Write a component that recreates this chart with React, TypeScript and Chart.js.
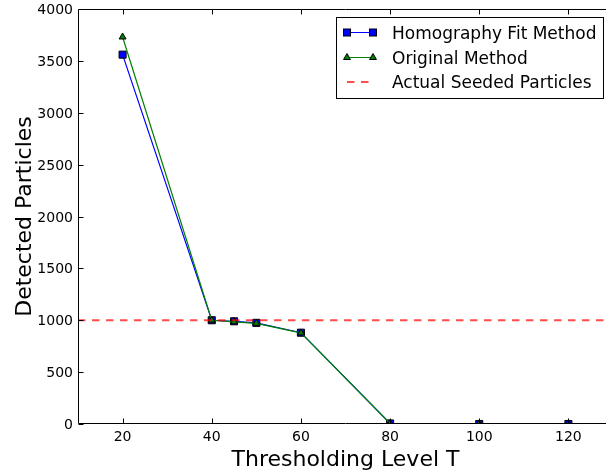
import React, { useEffect, useRef } from "react";
import { Chart, registerables } from "chart.js";

Chart.register(...registerables);

const thresholdLevels = [20, 40, 45, 50, 60, 80, 100, 120];
const homographyCounts = [3560, 1000, 990, 975, 880, 5, 0, 0];
const originalCounts = [3730, 1000, 985, 970, 878, 5, 0, 0];
const seededParticles = 1000;
const xTickValues = [20, 40, 60, 80, 100, 120];
const yTickValues = [0, 500, 1000, 1500, 2000, 2500, 3000, 3500, 4000];
const legendLabels = ["Homography Fit Method", "Original Method", "Actual Seeded Particles"];
const xTitle = "Thresholding Level T";
const yTitle = "Detected Particles";

const FONT = "'DejaVu Sans', sans-serif";

const axesPlugin = {
  id: "mplAxes",
  afterDraw(chart: any) {
    const { ctx, chartArea } = chart;
    const xs = chart.scales.x;
    const ys = chart.scales.y;
    const L = Math.round(chartArea.left) + 0.5;
    const R = Math.round(chartArea.right) - 0.5;
    const T = Math.round(chartArea.top) + 0.5;
    const B = Math.round(chartArea.bottom) - 0.5;
    ctx.save();
    ctx.strokeStyle = "#000";
    ctx.lineWidth = 1;
    ctx.setLineDash([]);
    // spines
    ctx.beginPath();
    ctx.moveTo(L, T);
    ctx.lineTo(R, T);
    ctx.lineTo(R, B);
    ctx.lineTo(L, B);
    ctx.closePath();
    ctx.stroke();
    // ticks
    const tl = 5;
    ctx.beginPath();
    xTickValues.forEach((v) => {
      const px = Math.round(xs.getPixelForValue(v)) + 0.5;
      ctx.moveTo(px, B);
      ctx.lineTo(px, B - tl);
      ctx.moveTo(px, T);
      ctx.lineTo(px, T + tl);
    });
    yTickValues.forEach((v) => {
      const py = Math.round(ys.getPixelForValue(v)) + 0.5;
      ctx.moveTo(L, py);
      ctx.lineTo(L + tl, py);
      ctx.moveTo(R, py);
      ctx.lineTo(R - tl, py);
    });
    ctx.stroke();
    // tick labels
    ctx.fillStyle = "#000";
    ctx.font = `14px ${FONT}`;
    ctx.textAlign = "center";
    ctx.textBaseline = "alphabetic";
    xTickValues.forEach((v) => {
      ctx.fillText(String(v), xs.getPixelForValue(v), chartArea.bottom + 17);
    });
    ctx.textAlign = "right";
    yTickValues.forEach((v) => {
      ctx.fillText(String(v), chartArea.left - 5, ys.getPixelForValue(v) + 5);
    });
    // axis titles
    ctx.font = `22px ${FONT}`;
    ctx.textAlign = "center";
    ctx.fillText(xTitle, (chartArea.left + chartArea.right) / 2, 466);
    ctx.save();
    ctx.translate(31, (chartArea.top + chartArea.bottom) / 2);
    ctx.rotate(-Math.PI / 2);
    ctx.fillText(yTitle, 0, 0);
    ctx.restore();

    // legend
    const bx = 336.5, by = 17.5, bw = 267, bh = 81;
    ctx.fillStyle = "#fff";
    ctx.fillRect(bx, by, bw, bh);
    ctx.strokeStyle = "#000";
    ctx.lineWidth = 1;
    ctx.strokeRect(bx, by, bw, bh);
    const x1 = 347, x2 = 373;
    const rows = [32.5, 57.5, 82];
    // row 1
    ctx.strokeStyle = "#0000ff";
    ctx.beginPath();
    ctx.moveTo(x1, rows[0]);
    ctx.lineTo(x2, rows[0]);
    ctx.stroke();
    [x1, x2].forEach((mx) => {
      ctx.fillStyle = "#0000ff";
      ctx.fillRect(mx - 3.5, rows[0] - 3.5, 7, 7);
      ctx.strokeStyle = "#000";
      ctx.lineWidth = 1;
      ctx.strokeRect(mx - 3.5, rows[0] - 3.5, 7, 7);
    });
    // row 2
    ctx.strokeStyle = "#008000";
    ctx.lineWidth = 1;
    ctx.beginPath();
    ctx.moveTo(x1, rows[1]);
    ctx.lineTo(x2, rows[1]);
    ctx.stroke();
    [x1, x2].forEach((mx) => {
      const r = 4;
      ctx.beginPath();
      ctx.moveTo(mx, rows[1] - r);
      ctx.lineTo(mx + r * 0.866, rows[1] + r * 0.5);
      ctx.lineTo(mx - r * 0.866, rows[1] + r * 0.5);
      ctx.closePath();
      ctx.fillStyle = "#008000";
      ctx.fill();
      ctx.strokeStyle = "#000";
      ctx.lineWidth = 1;
      ctx.stroke();
    });
    // row 3
    ctx.strokeStyle = "rgba(255,0,0,0.7)";
    ctx.lineWidth = 2;
    ctx.setLineDash([7.5, 6.5]);
    ctx.beginPath();
    ctx.moveTo(x1, rows[2]);
    ctx.lineTo(x2, rows[2]);
    ctx.stroke();
    ctx.setLineDash([]);
    // texts
    ctx.fillStyle = "#000";
    ctx.font = `17px ${FONT}`;
    ctx.textAlign = "left";
    ctx.fillText(legendLabels[0], 392, 38.5);
    ctx.fillText(legendLabels[1], 392, 63.5);
    ctx.fillText(legendLabels[2], 392, 88);
    ctx.restore();
  },
};

export default function App() {
  const canvasRef = useRef<HTMLCanvasElement | null>(null);

  useEffect(() => {
    if (!canvasRef.current) return;
    const chart = new Chart(canvasRef.current, {
      type: "line",
      data: {
        datasets: [
          {
            label: legendLabels[2],
            data: [
              { x: 10, y: seededParticles },
              { x: 130, y: seededParticles },
            ],
            borderColor: "rgba(255,0,0,0.7)",
            borderWidth: 2,
            borderDash: [7.5, 6.5],
            pointRadius: 0,
            order: 0,
          },
          {
            label: legendLabels[1],
            data: thresholdLevels.map((x, i) => ({ x, y: originalCounts[i] })),
            borderColor: "#008000",
            borderWidth: 1.2,
            pointStyle: "triangle",
            pointRadius: 4,
            pointBackgroundColor: "#008000",
            pointBorderColor: "#000",
            pointBorderWidth: 1,
            order: 1,
          },
          {
            label: legendLabels[0],
            data: thresholdLevels.map((x, i) => ({ x, y: homographyCounts[i] })),
            borderColor: "#0000ff",
            borderWidth: 1.2,
            pointStyle: "rect",
            pointRadius: 5,
            pointBackgroundColor: "#0000ff",
            pointBorderColor: "#000",
            pointBorderWidth: 1,
            order: 2,
          },
        ],
      },
      options: {
        responsive: false,
        animation: false,
        devicePixelRatio: 1,
        layout: { autoPadding: false, padding: { left: 78, top: 9, right: 0, bottom: 52 } },
        scales: {
          x: { type: "linear", min: 10, max: 130, display: false },
          y: { type: "linear", min: 0, max: 4000, display: false },
        },
        plugins: {
          legend: { display: false },
          tooltip: { enabled: false },
        },
        elements: { line: { tension: 0 } },
      },
      plugins: [axesPlugin],
    });
    return () => chart.destroy();
  }, []);

  return (
    <div
      style={{
        position: "fixed",
        left: 0,
        top: 0,
        width: 606,
        height: 476,
        overflow: "hidden",
        background: "#fff",
      }}
    >
      <div style={{ width: 613, height: 476 }}>
        <canvas ref={canvasRef} width={613} height={476} style={{ display: "block", width: 613, height: 476 }} />
      </div>
    </div>
  );
}
